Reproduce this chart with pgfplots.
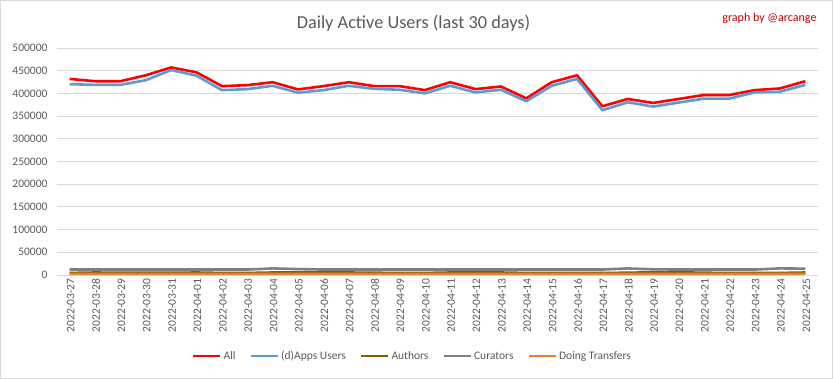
\documentclass[border=0pt]{standalone}
\usepackage{pgfplots}
\pgfplotsset{compat=1.18}
\usepackage{fontspec}
\setmainfont{Carlito}
\definecolor{gridgray}{HTML}{D9D9D9}
\definecolor{txtgray}{HTML}{595959}
\definecolor{cAll}{HTML}{FF0000}
\definecolor{cApps}{HTML}{5B9BD5}
\definecolor{cAuth}{HTML}{7F6000}
\definecolor{cCur}{HTML}{7F7F7F}
\definecolor{cTr}{HTML}{ED7D31}
\definecolor{cSig}{HTML}{C00000}
\begin{document}
\begin{tikzpicture}[x=1pt,y=1pt]
\useasboundingbox (0,0) rectangle (833,379);
\draw[gridgray, line width=0.8pt] (0.5,0.5) rectangle (832.5,378.5);
\node[font=\fontsize{18.3}{21}\selectfont, text=txtgray] at (413.5,356) {Daily Active Users (last 30 days)};
\node[anchor=east, font=\fontsize{12}{14}\selectfont, text=cSig] at (820,361) {graph by @arcange};
\begin{axis}[
  at={(57pt,104pt)}, anchor=south west,
  scale only axis, width=761pt, height=227pt,
  xmin=-0.5, xmax=29.5, ymin=0, ymax=500000,
  ytick={0,50000,...,500000},
  scaled y ticks=false,
  ymajorgrids, grid style={gridgray, line width=0.8pt},
  axis line style={draw=none},
  major tick length=0pt,
  /pgf/number format/assume math mode=true,
  yticklabel style={/pgf/number format/fixed, /pgf/number format/1000 sep={}, font=\fontsize{11.5}{13}\selectfont, text=txtgray, xshift=-6pt},
  xtick={0,...,29},
  xticklabels={2022-03-27,2022-03-28,2022-03-29,2022-03-30,2022-03-31,2022-04-01,2022-04-02,2022-04-03,2022-04-04,2022-04-05,2022-04-06,2022-04-07,2022-04-08,2022-04-09,2022-04-10,2022-04-11,2022-04-12,2022-04-13,2022-04-14,2022-04-15,2022-04-16,2022-04-17,2022-04-18,2022-04-19,2022-04-20,2022-04-21,2022-04-22,2022-04-23,2022-04-24,2022-04-25},
  xticklabel style={rotate=90, anchor=east, font=\fontsize{11.5}{13}\selectfont, text=txtgray, yshift=-1pt},
  legend columns=-1,
  legend style={at={(0.4671,-0.357)}, anchor=center, draw=none, fill=none, font=\fontsize{11.5}{13}\selectfont, text=txtgray,
    /tikz/every even column/.append style={column sep=12pt}},
  legend image code/.code={\draw[#1] (0pt,0pt) -- (27pt,0pt);},
  every axis plot/.append style={line join=round},
]
\addplot[cAll, line width=2.6pt] coordinates {
(0,431900) (1,426800) (2,426800) (3,439900) (4,457200) (5,446400) (6,416000) (7,418100) (8,424600) (9,408700)
(10,416000) (11,424600) (12,416000) (13,416000) (14,407200) (15,424600) (16,409400) (17,415200) (18,389100) (19,424600)
(20,439900) (21,371700) (22,387700) (23,379000) (24,387700) (25,396400) (26,396400) (27,407200) (28,410900) (29,426800)};
\addlegendentry{All}
\addplot[cApps, line width=2.6pt] coordinates {
(0,420300) (1,418800) (2,418800) (3,429000) (4,451400) (5,439100) (6,407200) (7,409400) (8,416700) (9,401500)
(10,407200) (11,416700) (12,410100) (13,408000) (14,400000) (15,416700) (16,402200) (17,408000) (18,382600) (19,416700)
(20,431900) (21,363000) (22,380400) (23,371000) (24,379700) (25,388400) (26,388400) (27,402200) (28,403600) (29,418800)};
\addlegendentry{(d)Apps Users}
\addplot[cAuth, line width=2.6pt] coordinates {
(0,4500) (1,5500) (2,5000) (3,5000) (4,5000) (5,5500) (6,4500) (7,4500) (8,5500) (9,5500)
(10,5500) (11,5500) (12,5000) (13,4500) (14,4500) (15,5500) (16,5500) (17,5500) (18,4500) (19,4500)
(20,4500) (21,4500) (22,5000) (23,6000) (24,6000) (25,5000) (26,4500) (27,4500) (28,4500) (29,5500)};
\addlegendentry{Authors}
\addplot[cCur, line width=2.6pt] coordinates {
(0,12000) (1,12000) (2,12000) (3,12000) (4,12000) (5,12000) (6,12000) (7,12000) (8,14500) (9,13000)
(10,12000) (11,12000) (12,12000) (13,12000) (14,12000) (15,12000) (16,12000) (17,12000) (18,12000) (19,12000)
(20,12000) (21,12000) (22,14500) (23,12500) (24,12000) (25,12000) (26,12000) (27,12000) (28,14500) (29,14000)};
\addlegendentry{Curators}
\addplot[cTr, line width=2.6pt] coordinates {
(0,2200) (1,2500) (2,2300) (3,2300) (4,2400) (5,2500) (6,2200) (7,2200) (8,2400) (9,2300)
(10,2300) (11,2400) (12,2300) (13,2200) (14,2200) (15,2400) (16,2400) (17,2300) (18,2200) (19,2200)
(20,2200) (21,2200) (22,2300) (23,2500) (24,2400) (25,2300) (26,2200) (27,2200) (28,2300) (29,2500)};
\addlegendentry{Doing Transfers}
\end{axis}
\end{tikzpicture}
\end{document}
